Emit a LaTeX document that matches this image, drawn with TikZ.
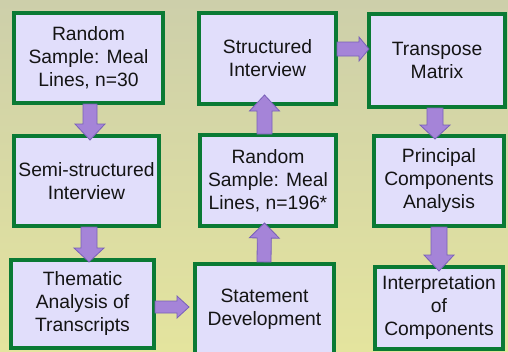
\documentclass[tikz,border=0pt]{standalone}
\usepackage{fontspec}
\setmainfont{Liberation Sans}
\usetikzlibrary{calc}
\definecolor{bgtop}{RGB}{205,207,170}
\definecolor{bgbot}{RGB}{228,228,158}
\definecolor{boxfill}{RGB}{225,222,251}
\definecolor{boxline}{RGB}{10,122,52}
\definecolor{arrfill}{RGB}{165,132,216}
\definecolor{arrline}{RGB}{120,96,184}
\definecolor{txt}{RGB}{20,20,20}
\tikzset{
  stepbox/.style={draw=boxline, fill=boxfill, line width=4pt, rectangle,
    inner sep=0pt, align=center, text=txt,
    font=\fontsize{19.3}{23}\selectfont},
  fatarrow/.style={fill=arrfill, draw=arrline, line width=0.8pt, line join=miter}
}
% #1 start, #2 tip, #3 shaft half width, #4 head half width, #5 head length
\newcommand{\fatarr}[5]{%
  \coordinate (hb) at ($#2!#5!#1$);
  \path[fatarrow] ($#1!#3!90:#2$) -- ($(hb)!#3!90:#2$) -- ($(hb)!#4!90:#2$)
    -- #2 -- ($(hb)!#4!-90:#2$) -- ($(hb)!#3!-90:#2$) -- ($#1!#3!-90:#2$) -- cycle;
}
\begin{document}
\begin{tikzpicture}[x=1pt,y=-1pt]
\useasboundingbox (0,0) rectangle (508,351);
\clip (0,0) rectangle (508,351);
\shade[top color=bgtop, bottom color=bgbot] (0,0) rectangle (508,351);

\node[stepbox, minimum width=149pt, minimum height=90pt] (b1) at (88.5,58) {Random\\Sample: Meal\\Lines, n=30};
\node[stepbox, minimum width=145pt, minimum height=90pt] (b2) at (86.5,181) {Semi-structured\\Interview};
\node[stepbox, minimum width=143pt, minimum height=88pt] (b3) at (82.5,304) {Thematic\\Analysis of\\Transcripts};
\node[stepbox, minimum width=139pt, minimum height=90pt] (b4) at (264.5,309) {Statement\\Development};
\node[stepbox, minimum width=136pt, minimum height=91pt] (b5) at (268,180.5) {Random\\Sample: Meal\\Lines, n=196*};
\node[stepbox, minimum width=137pt, minimum height=91pt] (b6) at (267.5,58.5) {Structured\\Interview};
\node[stepbox, minimum width=136pt, minimum height=93pt] (b7) at (437,60.5) {Transpose\\Matrix};
\node[stepbox, minimum width=130pt, minimum height=90pt] (b8) at (439,181) {Principal\\Components\\Analysis};
\node[stepbox, minimum width=128pt, minimum height=82pt] (b9) at (439,308) {Interpretation\\of\\Components};

% arrows
\coordinate (s1) at ($(b1.south)+(1.5,-1)$);
\coordinate (t1) at ($(b2.north)+(3.5,6)$);
\fatarr{(s1)}{(t1)}{7pt}{15pt}{16pt}

\coordinate (s2) at ($(b2.south)+(2.5,-1)$);
\coordinate (t2) at ($(b3.north)+(6.5,4)$);
\fatarr{(s2)}{(t2)}{8pt}{15pt}{14pt}

\coordinate (s3) at ($(b3.east |- 0,307)+(-1,0)$);
\coordinate (t3) at ($(b4.west |- 0,307)+(-4,0)$);
\fatarr{(s3)}{(t3)}{6pt}{11pt}{12pt}

\coordinate (s4) at ($(b4.north)+(-0.5,0)$);
\coordinate (t4) at ($(b5.south)+(-3.5,-5)$);
\fatarr{(s4)}{(t4)}{7pt}{15pt}{15pt}

\coordinate (s5) at ($(b5.north)+(-3.5,1)$);
\coordinate (t5) at ($(b6.south)+(-3,-11)$);
\fatarr{(s5)}{(t5)}{7.5pt}{15pt}{16pt}

\coordinate (s6) at ($(b6.east |- 0,49)+(-1,0)$);
\coordinate (t6) at ($(b7.west |- 0,49)+(2,0)$);
\fatarr{(s6)}{(t6)}{7pt}{12pt}{10pt}

\coordinate (s7) at ($(b7.south)+(-2,-1)$);
\coordinate (t7) at ($(b8.north)+(-4,5)$);
\fatarr{(s7)}{(t7)}{8pt}{15pt}{14pt}

\coordinate (s8) at ($(b8.south)+(0,-1)$);
\coordinate (t8) at ($(b9.north)+(0,6)$);
\fatarr{(s8)}{(t8)}{8pt}{15pt}{16pt}
\end{tikzpicture}
\end{document}
